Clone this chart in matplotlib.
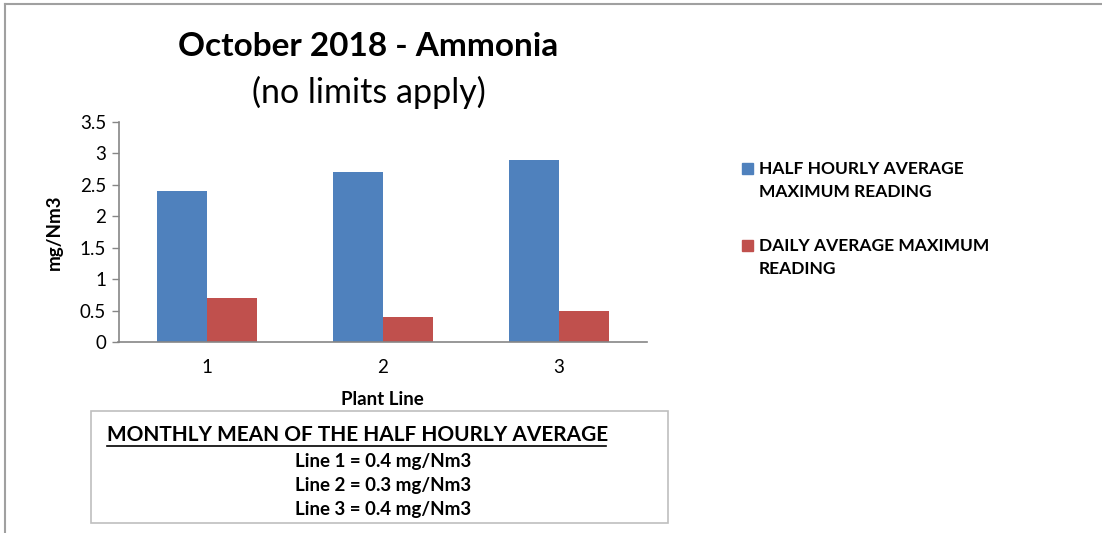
import matplotlib
matplotlib.use("Agg")
import matplotlib.pyplot as plt
import numpy as np
from matplotlib.patches import Rectangle
from matplotlib.lines import Line2D

plt.rcParams['font.family'] = ['Lato', 'DejaVu Sans']

categories = ["1", "2", "3"]
half_hourly_max = [2.4, 2.7, 2.9]
daily_max = [0.7, 0.4, 0.5]
series_names = ["HALF HOURLY AVERAGE\nMAXIMUM READING", "DAILY AVERAGE MAXIMUM\nREADING"]
yticks = [0, 0.5, 1, 1.5, 2, 2.5, 3, 3.5]
ytick_labels = ["0", "0.5", "1", "1.5", "2", "2.5", "3", "3.5"]
monthly_lines = ["Line 1 = 0.4 mg/Nm3", "Line 2 = 0.3 mg/Nm3", "Line 3 = 0.4 mg/Nm3"]

W, H = 1102, 533
fig = plt.figure(figsize=(W / 100, H / 100), dpi=100)

def fx(px):
    return px / W

def fy(py):
    return 1 - py / H

ax = fig.add_axes([fx(118.5), fy(342), fx(647) - fx(118.5), fy(122) - fy(342)])
blue = "#4F81BD"
red = "#C0504D"
axis_gray = "#868686"

x = np.arange(len(categories))
bw = 0.284
ax.bar(x - bw / 2, half_hourly_max, width=bw, color=blue, edgecolor="none", zorder=2)
ax.bar(x + bw / 2, daily_max, width=bw, color=red, edgecolor="none", zorder=2)

ax.set_xlim(-0.5, 2.5)
ax.set_ylim(0, 3.5)
ax.set_yticks(yticks)
ax.set_yticklabels(ytick_labels, fontsize=13.5)
ax.set_xticks(x)
ax.set_xticklabels(categories, fontsize=13.5)
ax.tick_params(axis='x', length=0, pad=12)
ax.tick_params(axis='y', length=5, width=1, color=axis_gray, pad=4, direction='out')
for s in ["top", "right"]:
    ax.spines[s].set_visible(False)
for s in ["left", "bottom"]:
    ax.spines[s].set_color(axis_gray)
    ax.spines[s].set_linewidth(1.2)

ax.set_ylabel("mg/Nm3", fontsize=13.5, fontweight='bold', labelpad=12)
ax.set_xlabel("Plant Line", fontsize=13.5, fontweight='bold', labelpad=11)

# Title
fig.text(fx(368), fy(46), "October 2018 - Ammonia", fontsize=24, fontweight='bold', ha='center', va='center')
fig.text(fx(369), fy(92), "(no limits apply)", fontsize=24.5, ha='center', va='center')

# Legend
leg_y = [168, 245]
for col, yy, name in zip([blue, red], leg_y, series_names):
    fig.patches.append(Rectangle((fx(742), fy(yy + 6)), fx(11), fy(0) - fy(11),
                                 transform=fig.transFigure, color=col))
    fig.text(fx(759), fy(yy - 7), name, fontsize=12.5, fontweight='bold', ha='left', va='top',
             linespacing=1.55)

# Box
fig.patches.append(Rectangle((fx(91), fy(523)), fx(668) - fx(91), fy(411) - fy(523),
                             transform=fig.transFigure, facecolor='none', edgecolor='#BFBFBF', lw=1.2))
fig.text(fx(107), fy(435), "MONTHLY MEAN OF THE HALF HOURLY AVERAGE", fontsize=15,
         fontweight='bold', ha='left', va='center')
fig.lines.append(Line2D([fx(107), fx(606)], [fy(446), fy(446)], transform=fig.transFigure,
                        color='black', lw=1.2))
for i, t in enumerate(monthly_lines):
    fig.text(fx(383), fy(461 + 24 * i), t, fontsize=13.5, fontweight='bold', ha='center', va='center')

# Outer border
fig.lines.append(Line2D([fx(4.5), fx(4.5)], [0, fy(3.5)], transform=fig.transFigure, color='#A0A0A0', lw=1.5))
fig.lines.append(Line2D([fx(4.5), 1], [fy(3.5), fy(3.5)], transform=fig.transFigure, color='#A0A0A0', lw=1.5))

fig.savefig("out.png", dpi=100)
